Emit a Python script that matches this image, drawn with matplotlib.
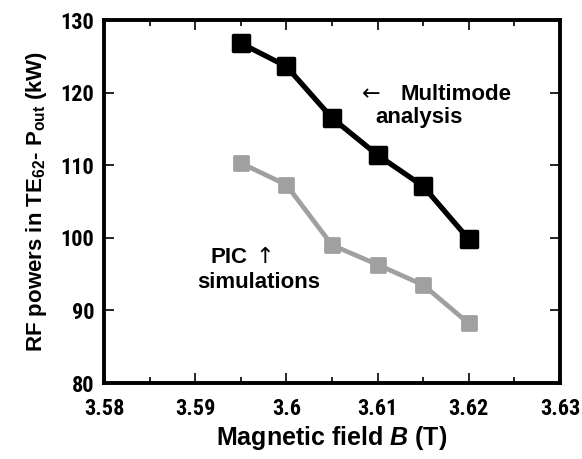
import matplotlib
matplotlib.use("Agg")
import matplotlib.pyplot as plt
from matplotlib.ticker import MultipleLocator
from matplotlib.markers import MarkerStyle

B = [3.595, 3.600, 3.605, 3.610, 3.615, 3.620]
multimode = [126.8, 123.6, 116.5, 111.4, 107.1, 99.8]
pic = [110.3, 107.3, 99.0, 96.3, 93.5, 88.2]
xticks = [3.58, 3.59, 3.60, 3.61, 3.62, 3.63]
xtick_labels = ["3.58", "3.59", "3.6", "3.61", "3.62", "3.63"]
yticks = [80, 90, 100, 110, 120, 130]

plt.rcParams["mathtext.fontset"] = "custom"
plt.rcParams["mathtext.rm"] = "Liberation Sans:bold"
plt.rcParams["mathtext.bf"] = "Liberation Sans:bold"
plt.rcParams["mathtext.it"] = "Liberation Sans:bold:italic"
plt.rcParams["mathtext.bfit"] = "Liberation Sans:bold:italic"

fig = plt.figure(figsize=(5.82, 4.59), dpi=100)
ax = fig.add_axes([104/582, 1-383/459, (560-104)/582, (383-20)/459])

sq = MarkerStyle("s", joinstyle="round")
ax.plot(B, pic, color="#a0a0a0", lw=3.4, marker=sq, ms=9.5, mfc="#a0a0a0", mec="#a0a0a0", mew=2,
        solid_joinstyle="round")
ax.plot(B, multimode, color="black", lw=3.8, marker=sq, ms=12, mfc="black", mec="black", mew=2.5,
        solid_joinstyle="round")

ax.set_xlim(3.58, 3.63)
ax.set_ylim(80, 130)
ax.set_xticks(xticks)
ax.set_xticklabels(xtick_labels)
ax.set_yticks(yticks)
ax.xaxis.set_minor_locator(MultipleLocator(0.005))
ax.tick_params(which="both", direction="in", top=True, right=True, width=1.2)
ax.tick_params(which="major", length=7)
ax.tick_params(axis="x", which="major", pad=11)
ax.tick_params(axis="y", which="major", pad=7)
ax.tick_params(which="minor", length=4)
for lab in ax.get_xticklabels() + ax.get_yticklabels():
    lab.set_fontfamily("Roboto Condensed")
    lab.set_fontweight("bold")
    lab.set_fontsize(16)
for s in ax.spines.values():
    s.set_linewidth(2.8)

ax.set_xlabel(r"Magnetic field $\mathit{B}$ (T)", fontsize=18, fontweight="bold", family="Liberation Sans", labelpad=3)
ax.set_ylabel(r"RF powers in TE$_{\mathrm{62}}$- P$_{\mathrm{out}}$ (kW)", fontsize=16, fontweight="bold", family="Liberation Sans", labelpad=8)

def px2x(px):
    return 3.58 + (px - 104) / 456 * 0.05

def py2y(py):
    return 130 - (py - 20) / 363 * 50

tkw = dict(fontsize=16, fontweight="bold", family="Liberation Sans", va="baseline", ha="left")
akw = dict(fontsize=16, family="DejaVu Sans", va="baseline", ha="left")
ax.text(px2x(362), py2y(100), "\u2190", **akw)
ax.text(px2x(400), py2y(100), "Multimode", **tkw)
ax.text(px2x(375), py2y(123), "analysis", **tkw)
ax.text(px2x(210), py2y(263), "PIC", **tkw)
ax.text(px2x(255), py2y(263), "\u2191", **akw)
ax.text(px2x(197), py2y(288), "simulations", **tkw)

fig.savefig("out.png", dpi=100)
